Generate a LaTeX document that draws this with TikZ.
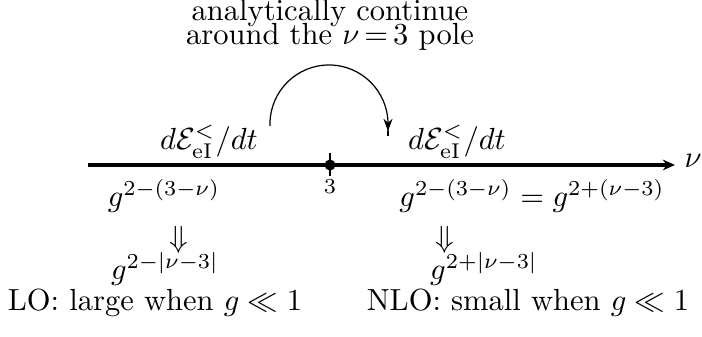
\documentclass[tikz,border=0pt]{standalone}
\usetikzlibrary{arrows.meta}
\begin{document}
\begin{tikzpicture}[x=0.3275pt,y=-0.3275pt,
  lbl/.style={inner sep=0pt,anchor=base},
  axis/.style={line width=1pt,-{Stealth[length=4pt,width=3.5pt]}},
  turn/.style={line width=0.4pt}]
\useasboundingbox (0,0) rectangle (702,337);
% top caption
\node[lbl] (cap1) at (330,21) {analytically continue};
\node[lbl] (cap2) at (330,45) {around the $\nu\,{=}\,3$ pole};
% axis
\coordinate (axL) at (88,165);
\coordinate (axR) at (675,165);
\draw[axis] (axL) -- (axR);
\node[lbl,anchor=base west] (nu) at (684,168) {$\nu$};
% pole
\coordinate (pole) at (330,165);
\coordinate (tickT) at (330,153);
\coordinate (tickB) at (330,176);
\draw[line width=0.6pt] (tickT) -- (tickB);
\fill (pole) circle (5.5);
\node[lbl,font=\scriptsize] (three) at (330,194) {3};
% arc
\coordinate (arcS) at (270,126);
\coordinate (arcM) at (388,131);
\coordinate (arcE) at (388,136);
\draw[turn] (arcS) -- (270,124) arc (180:360:59) -- (arcM);
\draw[turn,-{Stealth[length=4pt,width=3pt]}] (388,124) -- (arcM);
\draw[turn] (arcM) -- (arcE);
% rates
\node[lbl] (rL) at (209,150) {$d\mathcal{E}^{<}_{\mathrm{eI}}/dt$};
\node[lbl] (rR) at (457,150) {$d\mathcal{E}^{<}_{\mathrm{eI}}/dt$};
% left column
\node[lbl] (gL1) at (164,207) {$g^{2-(3-\nu)}$};
\node[lbl,anchor=center] (dL) at (179,240) {$\Downarrow$};
\node[lbl] (gL2) at (165,280) {$g^{2-|\nu-3|}$};
\node[lbl] (LO) at (155,311) {LO: large when $g\ll 1$};
% right column
\node[lbl] (gR1) at (532,207) {$g^{2-(3-\nu)} = g^{2+(\nu-3)}$};
\node[lbl,anchor=center] (dR) at (445,240) {$\Downarrow$};
\node[lbl] (gR2) at (484,280) {$g^{2+|\nu-3|}$};
\node[lbl] (NLO) at (528,311) {NLO: small when $g\ll 1$};
\end{tikzpicture}
\end{document}
